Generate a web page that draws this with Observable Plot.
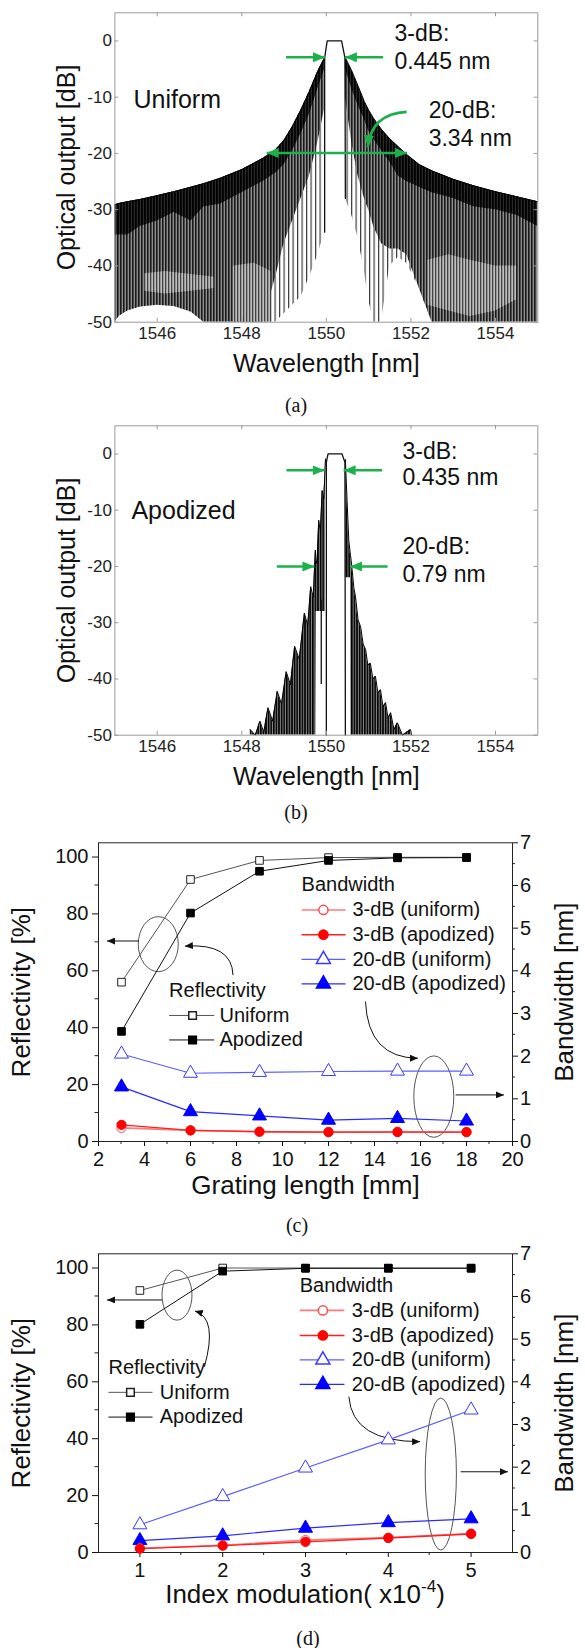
<!DOCTYPE html>
<html>
<head>
<meta charset="utf-8">
<script src="https://cdn.jsdelivr.net/npm/d3@7"></script>
<script src="https://cdn.jsdelivr.net/npm/@observablehq/plot@0.6"></script>
<style>
  html, body { margin: 0; padding: 0; background: #fff; overflow: hidden; }
  #root { position: relative; width: 585px; height: 1648px; font-family: "Liberation Sans", Arial, sans-serif; }
  .panel { position: absolute; left: 0; }
  .cap { position: absolute; width: 80px; text-align: center; font-family: "Liberation Serif", "Times New Roman", serif; font-size: 20px; line-height: 20px; color: #111; }
</style>
</head>
<body>
<svg width="0" height="0" style="position:absolute;left:0;top:0">
  <defs>
    <pattern id="pDark" width="3" height="10" patternUnits="userSpaceOnUse">
      <rect width="3" height="10" fill="#2a2a2a"/><rect width="1.8" height="10" fill="#000"/>
    </pattern>
    <pattern id="pDense" width="3" height="10" patternUnits="userSpaceOnUse">
      <rect width="3" height="10" fill="#8e8e8e"/><rect width="1.6" height="10" fill="#1a1a1a"/>
    </pattern>
    <pattern id="pSparse" width="4.5" height="10" patternUnits="userSpaceOnUse">
      <rect width="4.5" height="10" fill="#ffffff"/><rect width="1.2" height="10" fill="#3a3a3a"/>
    </pattern>
    <pattern id="pLight" width="3" height="10" patternUnits="userSpaceOnUse">
      <rect width="3" height="10" fill="#bdbdbd"/><rect width="1.3" height="10" fill="#444"/>
    </pattern>
    <pattern id="pApo" width="2.6" height="10" patternUnits="userSpaceOnUse">
      <rect width="2.6" height="10" fill="#8a8a8a"/><rect width="1.6" height="10" fill="#000"/>
    </pattern>
    <marker id="hG" viewBox="0 0 10 10" refX="10" refY="5" markerWidth="12" markerHeight="10" markerUnits="userSpaceOnUse" orient="auto-start-reverse" preserveAspectRatio="none">
      <path d="M0,0L10,5L0,10z" fill="#1db14b"/>
    </marker>
    <marker id="hK" viewBox="0 0 10 10" refX="10" refY="5" markerWidth="8" markerHeight="7" markerUnits="userSpaceOnUse" orient="auto-start-reverse" preserveAspectRatio="none">
      <path d="M0,0L10,5L0,10z" fill="#111"/>
    </marker>
  </defs>
</svg>
<div id="root"></div>
<script>
// ================= DATA =================
// (a) Uniform grating spectrum (NaN = central gap)
const uniWl    = [1545.0,1545.1,1545.3,1545.6,1546.0,1546.4,1546.8,1547.1,1547.5,1548.0,1548.5,1548.8,1549.0,1549.2,1549.4,1549.6,1549.8,1549.96,NaN,1550.45,1550.6,1550.75,1550.9,1551.0,1551.12,1551.3,1551.5,1551.7,1551.9,1552.2,1552.5,1553.0,1553.5,1554.0,1554.5,1555.0];
const uniTop   = [-29.1,-28.9,-28.6,-28.2,-27.5,-26.8,-26.0,-25.4,-24.4,-22.9,-20.9,-19.4,-17.7,-15.2,-12.3,-9.0,-5.4,-3.0,NaN,-3.0,-5.3,-8.0,-10.8,-12.3,-13.8,-15.7,-17.4,-18.8,-20.2,-22.0,-23.1,-24.6,-25.8,-26.8,-27.7,-28.6];
const uniBand  = [-34.5,-34.5,-34.5,-33.0,-32.0,-30.5,-32.0,-29.5,-29.0,-27.0,-25.0,-23.5,-22.0,-19.5,-16.5,-13.0,-8.5,-5.0,NaN,-5.0,-8.5,-11.5,-14.0,-16.0,-17.5,-19.5,-21.5,-24.0,-25.0,-26.0,-27.0,-28.0,-29.5,-30.0,-31.0,-33.0];
const uniDense = [-50,-49,-48,-47.3,-47,-47.2,-48.2,-50,-50,-50,-50,-42,-36,-32,-28,-24,-18,-12,NaN,-10,-18,-24,-28,-30,-33,-36,-37,-37,-38,-44,-50,-50,-50,-50,-50,-50];
const uniFloor = [-50,-49,-48,-47.3,-47,-47.2,-48.2,-50,-50,-50,-50,-50,-48.5,-47,-45.5,-42,-38,-34,NaN,-28,-31,-35,-41,-46,-50,-50,-40,-38.5,-39.5,-44,-50,-50,-50,-50,-50,-50];
const uniPatchWl = [1545.7,1546.2,1546.8,1547.35,NaN,1547.8,1548.3,1548.7,NaN,1552.4,1552.9,1553.4,1554.0,1554.5];
const uniPatchHi = [-41.4,-41.0,-41.5,-42.0,NaN,-40,-39.5,-41,NaN,-39,-38,-39,-40,-40];
const uniPatchLo = [-44.5,-45.0,-44.5,-44.0,NaN,-50,-50,-50,NaN,-47,-48,-49,-48,-46];
const uniPeakWl = [1549.96,1549.96,1550.02,1550.36,1550.44,1550.45];
const uniPeakDb = [-34,-3,0,0,-3,-28];

// (b) Apodized grating spectrum
const apoWl    = [1548.20,1548.32,1548.43,1548.52,1548.62,1548.73,1548.84,1548.94,1549.05,1549.15,1549.25,1549.36,1549.48,1549.56,1549.63,1549.69,1549.74,1549.75,1549.76,1549.78,1549.82,1549.86,1549.90,1549.94,1549.98,NaN,
                  1550.45,1550.49,1550.53,1550.57,1550.58,1550.61,1550.65,1550.69,1550.75,1550.81,1550.87,1550.93,1550.98,1551.04,1551.10,1551.16,1551.22,1551.28,1551.34,1551.40,1551.46,1551.52,1551.60,1551.68,1551.80,1551.99,1552.02];
const apoTop   = [-49.0,-50,-47.5,-49.5,-45.1,-47.5,-42.2,-44.5,-38.7,-41.0,-34.2,-36.5,-28.3,-30.5,-23.6,-25.5,-17.1,-18.5,-19.0,-19.5,-11.8,-14.0,-6.5,-8.0,-0.9,NaN,
                  -1.0,-8.3,-15.3,-18.0,-18.5,-20.6,-23.8,-25.4,-29.5,-30.7,-33.8,-34.8,-37.5,-37.2,-40.0,-39.5,-42.5,-41.9,-45.0,-44.2,-47.0,-46.0,-49.0,-47.8,-50.0,-49.0,-50.0];
const apoFloor = [-50,-50,-50,-50,-50,-50,-50,-50,-50,-50,-50,-50,-50,-50,-50,-50,-50,-50,-28,-28,-28,-28,-28,-28,-28,NaN,
                  -22,-22,-22,-22,-50,-50,-50,-50,-50,-50,-50,-50,-50,-50,-50,-50,-50,-50,-50,-50,-50,-50,-50,-50,-50,-50,-50];
const apoPeakWl = [1550.0,1550.0,1550.04,1550.37,1550.44,1550.45];
const apoPeakDb = [-50,-1.5,0,0,-1.5,-50];
const apoSpikeWl = [1549.88];
const apoSpikeHi = [-26];
const apoSpikeLo = [-41];

// (c) versus grating length [mm]
const gratingLength = [3, 6, 9, 12, 15, 18];
const reflUniformC  = [56.0, 92.1, 98.8, 99.8, 99.9, 99.9];
const reflApodC     = [38.7, 80.3, 95.0, 98.8, 99.7, 99.8];
const bw3UniformC   = [0.32, 0.26, 0.23, 0.22, 0.23, 0.22];
const bw3ApodC      = [0.39, 0.26, 0.23, 0.22, 0.22, 0.22];
const bw20UniformC  = [2.05, 1.60, 1.62, 1.64, 1.65, 1.65];
const bw20ApodC     = [1.28, 0.70, 0.60, 0.50, 0.54, 0.48];

// (d) versus index modulation [x1e-4]
const indexMod      = [1, 2, 3, 4, 5];
const reflUniformD  = [92.1, 100, 100, 100, 100];
const reflApodD     = [80.2, 98.9, 99.9, 99.9, 99.9];
const bw3UniformD   = [0.10, 0.17, 0.29, 0.35, 0.445];
const bw3ApodD      = [0.09, 0.16, 0.25, 0.34, 0.435];
const bw20UniformD  = [0.65, 1.31, 1.98, 2.64, 3.34];
const bw20ApodD     = [0.28, 0.39, 0.57, 0.70, 0.79];

// tick labels
const wlTicks = [1546, 1548, 1550, 1552, 1554];
const dbTicks = [-50, -40, -30, -20, -10, 0];
const lenTicks = [2, 4, 6, 8, 10, 12, 14, 16, 18, 20];
const lenMinor = [3, 5, 7, 9, 11, 13, 15, 17, 19];
const modTicks = [1, 2, 3, 4, 5];
const modMinor = [1.5, 2.5, 3.5, 4.5];
const reflTicks = [0, 20, 40, 60, 80, 100];
const reflMinor = [10, 30, 50, 70, 90];
const bwTicks = [0, 1, 2, 3, 4, 5, 6, 7];
const bwMinor = [0.5, 1.5, 2.5, 3.5, 4.5, 5.5, 6.5];
const legendBandwidth = ["3-dB (uniform)", "3-dB (apodized)", "20-dB (uniform)", "20-dB (apodized)"];
const legendRefl = ["Uniform", "Apodized"];

// ================= HELPERS =================
const SVGNS = "http://www.w3.org/2000/svg";
const GREEN = "#1db14b";
function el(name, attrs) { const e = document.createElementNS(SVGNS, name); for (const k in attrs) e.setAttribute(k, attrs[k]); return e; }
function pathMark(pts, {quad = false, stroke = "#111", width = 1, start = null, end = null} = {}) {
  return (index, scales) => {
    const P = pts.map(([a, b]) => [scales.x(a), scales.y(b)]);
    let d = `M${P[0]}`;
    d += quad ? `Q${P[1]} ${P[2]}` : P.slice(1).map(p => `L${p}`).join("");
    const attrs = {d, fill: "none", stroke, "stroke-width": width};
    if (start) attrs["marker-start"] = `url(#${start})`;
    if (end) attrs["marker-end"] = `url(#${end})`;
    return el("path", attrs);
  };
}
function ellipseMark(cx, cy, rx, ry) {
  return (index, scales) => el("ellipse", {cx: scales.x(cx), cy: scales.y(cy), rx, ry, fill: "none", stroke: "#555", "stroke-width": 1});
}
// short tick lines (minor ticks) through the plot's scales, outward from the frame
function tickLines(values, side, len, stroke = "#222") {
  return (index, scales, v, dims) => {
    const g = el("g", {stroke, "stroke-width": 1});
    const bottom = dims.height - dims.marginBottom, left = dims.marginLeft, right = dims.width - dims.marginRight;
    for (const t of values) {
      if (side === "bottom") { const x = scales.x(t); g.append(el("line", {x1: x, x2: x, y1: bottom, y2: bottom + len})); }
      else if (side === "left") { const y = scales.y(t); g.append(el("line", {x1: left, x2: left - len, y1: y, y2: y})); }
      else { const y = scales.y(t); g.append(el("line", {x1: right, x2: right + len, y1: y, y2: y})); }
    }
    return g;
  };
}

function specAxes() {
  const g = "#9b9b9b";
  return [
    Plot.frame({stroke: g}),
    Plot.ruleX(wlTicks, {x: d => d, y1: -50, y2: -49.3, stroke: g}),
    Plot.ruleX(wlTicks, {x: d => d, y1: 5, y2: 4.3, stroke: g}),
    Plot.ruleY(dbTicks, {y: d => d, x1: 1545, x2: 1545.09, stroke: g}),
    Plot.ruleY(dbTicks, {y: d => d, x1: 1555, x2: 1554.91, stroke: g}),
    Plot.axisX(wlTicks, {tickSize: 0, tickPadding: 5, fontSize: 17, label: null, tickFormat: d => String(d)}),
    Plot.axisY(dbTicks, {tickSize: 0, tickPadding: 3, fontSize: 17, label: null, tickFormat: d => String(d)}),
    Plot.text(["Wavelength [nm]"], {text: d => d, frameAnchor: "bottom", dy: 50, lineAnchor: "bottom", fontSize: 25, fill: "#111"}),
    Plot.text(["Optical output [dB]"], {text: d => d, frameAnchor: "left", textAnchor: "middle", dx: -48, rotate: -90, fontSize: 25, fill: "#111"})
  ];
}
const specBase = {
  width: 585, height: 390, marginLeft: 114.4, marginRight: 47.7, marginTop: 12.3, marginBottom: 68.3,
  x: {domain: [1545, 1555]}, y: {domain: [-50, 5]},
  style: {background: "transparent", overflow: "visible", color: "#222", fontFamily: "Liberation Sans, Arial, sans-serif"}
};
function annText(lines, size) {
  return Plot.text(lines, {text: d => d[0], x: d => d[1], y: d => d[2], textAnchor: "start", lineAnchor: "bottom", fontSize: size, fill: "#111"});
}

// ================= PANEL (a) =================
const uniRows = uniWl.map((wl, i) => ({wl, top: uniTop[i], band: uniBand[i], dense: uniDense[i], floor: uniFloor[i]}));
const uniPatch = uniPatchWl.map((wl, i) => ({wl, hi: uniPatchHi[i], lo: uniPatchLo[i]}));
const uniPeak = uniPeakWl.map((wl, i) => ({wl, db: uniPeakDb[i]}));
const plotA = Plot.plot({
  ...specBase,
  marks: [
    Plot.areaY(uniRows, {x: "wl", y1: "floor", y2: "top", fill: "url(#pSparse)", clip: true}),
    Plot.areaY(uniRows, {x: "wl", y1: "dense", y2: "top", fill: "url(#pDense)", clip: true}),
    Plot.areaY(uniPatch, {x: "wl", y1: "lo", y2: "hi", fill: "url(#pLight)", clip: true}),
    Plot.areaY(uniRows, {x: "wl", y1: "band", y2: "top", fill: "url(#pDark)", clip: true}),
    Plot.line(uniRows, {x: "wl", y: "top", stroke: "#000", strokeWidth: 1}),
    Plot.line(uniPeak, {x: "wl", y: "db", stroke: "#111", strokeWidth: 1.3}),
    ...specAxes(),
    annText([["Uniform", 1545.44, -11.9]], 25),
    annText([["3-dB:", 1551.61, 0.0], ["0.445 nm", 1551.61, -5.0], ["20-dB:", 1552.42, -13.7], ["3.34 nm", 1552.42, -18.6]], 23),
    pathMark([[1549.06, -3], [1549.98, -3]], {stroke: GREEN, width: 2.6, end: "hG"}),
    pathMark([[1551.35, -3], [1550.45, -3]], {stroke: GREEN, width: 2.6, end: "hG"}),
    pathMark([[1548.6, -20], [1551.92, -20]], {stroke: GREEN, width: 2.6, start: "hG", end: "hG"}),
    pathMark([[1551.91, -12.7], [1551.08, -13.0], [1550.99, -19.0]], {quad: true, stroke: GREEN, width: 2.6, end: "hG"})
  ]
});

// ================= PANEL (b) =================
const apoRows = apoWl.map((wl, i) => ({wl, top: apoTop[i], floor: apoFloor[i]}));
const apoPeak = apoPeakWl.map((wl, i) => ({wl, db: apoPeakDb[i]}));
const apoSpike = apoSpikeWl.map((wl, i) => ({wl, hi: apoSpikeHi[i], lo: apoSpikeLo[i]}));
const plotB = Plot.plot({
  ...specBase,
  marks: [
    Plot.areaY(apoRows, {x: "wl", y1: "floor", y2: "top", fill: "url(#pApo)", clip: true}),
    Plot.line(apoRows, {x: "wl", y: "top", stroke: "#000", strokeWidth: 1}),
    Plot.ruleX(apoSpike, {x: "wl", y1: "lo", y2: "hi", stroke: "#111", strokeWidth: 1.3}),
    Plot.line(apoPeak, {x: "wl", y: "db", stroke: "#111", strokeWidth: 1.3}),
    ...specAxes(),
    annText([["Apodized", 1545.39, -11.5]], 25),
    annText([["3-dB:", 1551.8, -0.9], ["0.435 nm", 1551.8, -5.6], ["20-dB:", 1551.8, -17.8], ["0.79 nm", 1551.8, -22.7]], 23),
    pathMark([[1549.07, -3], [1549.97, -3]], {stroke: GREEN, width: 2.6, end: "hG"}),
    pathMark([[1551.33, -3], [1550.42, -3]], {stroke: GREEN, width: 2.6, end: "hG"}),
    pathMark([[1548.84, -20.1], [1549.73, -20.1]], {stroke: GREEN, width: 2.6, end: "hG"}),
    pathMark([[1551.46, -20.1], [1550.57, -20.1]], {stroke: GREEN, width: 2.6, end: "hG"})
  ]
});

// ================= PANELS (c), (d) =================
const NM = 105 / 7; // right axis (bandwidth, nm) mapped onto the left axis (0..105 %)
const STY = {
  reflU: {line: "#555", w: 1, sym: "square", fill: "white", stroke: "#222", r: 4.3},
  reflA: {line: "#111", w: 1, sym: "square", fill: "#000", stroke: "#000", r: 4.3},
  bw3U:  {line: "#ff7a7a", w: 1.6, sym: "circle", fill: "white", stroke: "#ff4a4a", r: 4.6},
  bw3A:  {line: "#ff1f1f", w: 1.4, sym: "circle", fill: "#ff0000", stroke: "#ff0000", r: 4.6},
  bw20U: {line: "#5c5cff", w: 1.2, sym: "triangle", fill: "white", stroke: "#3a3aff", r: 5.2},
  bw20A: {line: "#2a2aff", w: 1.2, sym: "triangle", fill: "#0000ff", stroke: "#0000ff", r: 5.2}
};
function seriesMarks(list) {
  const lines = [], dots = [];
  for (const [xs, ys, s, k] of list) {
    const rows = xs.map((x, i) => ({x, y: ys[i] * k}));
    lines.push(Plot.line(rows, {x: "x", y: "y", stroke: s.line, strokeWidth: s.w}));
    dots.push(Plot.dot(rows, {x: "x", y: "y", symbol: s.sym, r: s.r, fill: s.fill, stroke: s.stroke, strokeWidth: 1}));
  }
  return [...lines, ...dots];
}
function legendMarks(names, styles, ys, x1, x2, xm, xt) {
  const rows = names.map((n, i) => ({n, s: styles[i], y: ys[i]}));
  return [
    ...rows.map(r => Plot.link([r], {x1: x1, x2: x2, y1: d => d.y, y2: d => d.y, stroke: r.s.line, strokeWidth: r.s.w})),
    ...rows.map(r => Plot.dot([r], {x: xm, y: d => d.y, symbol: r.s.sym, r: r.s.r, fill: r.s.fill, stroke: r.s.stroke})),
    Plot.text(rows, {x: xt, y: "y", text: "n", textAnchor: "start", lineAnchor: "middle", fontSize: 20, fill: "#111"})
  ];
}
function dualAxes(xMajor, xMinor) {
  return [
    Plot.frame({stroke: "#222"}),
    tickLines(xMinor, "bottom", 3),
    Plot.axisX(xMajor, {tickSize: 5, tickPadding: 5, fontSize: 20, label: null}),
    tickLines(reflMinor, "left", 3.5),
    Plot.axisY(reflTicks, {tickSize: 6, tickPadding: 4, fontSize: 20, label: null}),
    tickLines(bwMinor.map(v => v * NM), "right", 3),
    Plot.axisY(bwTicks.map(v => v * NM), {anchor: "right", tickSize: 5, tickPadding: 2.5, fontSize: 20, label: null, tickFormat: d => String(Math.round(d / NM))}),
    Plot.text(["Reflectivity [%]"], {text: d => d, frameAnchor: "left", textAnchor: "middle", dx: -76.5, rotate: -90, fontSize: 26, fill: "#111"}),
    Plot.text(["Bandwidth [nm]"], {text: d => d, frameAnchor: "right", textAnchor: "middle", dx: 52, rotate: -90, fontSize: 26, fill: "#111"})
  ];
}
const dualBase = {
  width: 585, height: 385, marginLeft: 98, marginRight: 73, marginTop: 12.3, marginBottom: 74,
  y: {domain: [0, 105]},
  style: {background: "transparent", overflow: "visible", color: "#111", fontFamily: "Liberation Sans, Arial, sans-serif"}
};
const bwStyles = [STY.bw3U, STY.bw3A, STY.bw20U, STY.bw20A];
const reflStyles = [STY.reflU, STY.reflA];

const plotC = Plot.plot({
  ...dualBase,
  x: {domain: [2, 20]},
  marks: [
    ...dualAxes(lenTicks, lenMinor),
    Plot.text(["Grating length [mm]"], {text: d => d, frameAnchor: "bottom", dy: 52, lineAnchor: "bottom", fontSize: 26, fill: "#111"}),
    ellipseMark(4.62, 69.2, 20, 27.5),
    pathMark([[3.78, 70.3], [2.39, 70.3]], {end: "hK"}),
    pathMark([[7.87, 58.3], [7.83, 69.6], [5.78, 68.5]], {quad: true, end: "hK"}),
    ellipseMark(16.6, 15.6, 20, 40.7),
    pathMark([[17.55, 16.2], [19.65, 16.2]], {end: "hK"}),
    pathMark([[13.63, 49.0], [13.74, 29.2], [15.91, 29.1]], {quad: true, end: "hK"}),
    ...seriesMarks([
      [gratingLength, reflUniformC, STY.reflU, 1],
      [gratingLength, reflApodC, STY.reflA, 1],
      [gratingLength, bw20UniformC, STY.bw20U, NM],
      [gratingLength, bw20ApodC, STY.bw20A, NM],
      [gratingLength, bw3UniformC, STY.bw3U, NM],
      [gratingLength, bw3ApodC, STY.bw3A, NM]
    ]),
    Plot.text(["Bandwidth"], {text: d => d, x: 10.83, y: 88.0, textAnchor: "start", lineAnchor: "bottom", fontSize: 20, fill: "#111"}),
    ...legendMarks(legendBandwidth, bwStyles, [81.4, 72.7, 64.0, 55.4], 10.83, 12.74, 11.78, 13.04),
    Plot.text(["Reflectivity"], {text: d => d, x: 5.07, y: 50.7, textAnchor: "start", lineAnchor: "bottom", fontSize: 20, fill: "#111"}),
    ...legendMarks(legendRefl, reflStyles, [44.3, 35.7], 5.07, 7.03, 6.09, 7.26)
  ]
});

function indexLabel(index, scales, values, dims) {
  const t = el("text", {x: (dims.marginLeft + dims.width - dims.marginRight) / 2, y: dims.height - dims.marginBottom + 51,
    "text-anchor": "middle", "font-size": 26, fill: "#111"});
  const a = el("tspan", {}); a.textContent = "Index modulation( x10";
  const b = el("tspan", {dy: -11, "font-size": 17}); b.textContent = "-4";
  const c = el("tspan", {dy: 11}); c.textContent = ")";
  t.append(a, b, c);
  return t;
}

const plotD = Plot.plot({
  ...dualBase,
  x: {domain: [0.5, 5.5]},
  marks: [
    ...dualAxes(modTicks, modMinor),
    indexLabel,
    ellipseMark(1.454, 90.3, 15, 25),
    pathMark([[1.273, 88.6], [0.609, 88.6]], {end: "hK"}),
    pathMark([[1.785, 65.1], [1.95, 82.3], [1.67, 84.7]], {quad: true, end: "hK"}),
    ellipseMark(4.64, 27.4, 15.6, 76),
    pathMark([[4.88, 28.2], [5.45, 28.2]], {end: "hK"}),
    pathMark([[3.53, 54.6], [3.57, 38.7], [4.39, 38.8]], {quad: true, end: "hK"}),
    ...seriesMarks([
      [indexMod, reflUniformD, STY.reflU, 1],
      [indexMod, reflApodD, STY.reflA, 1],
      [indexMod, bw20UniformD, STY.bw20U, NM],
      [indexMod, bw20ApodD, STY.bw20A, NM],
      [indexMod, bw3UniformD, STY.bw3U, NM],
      [indexMod, bw3ApodD, STY.bw3A, NM]
    ]),
    Plot.text(["Bandwidth"], {text: d => d, x: 2.93, y: 91.7, textAnchor: "start", lineAnchor: "bottom", fontSize: 20, fill: "#111"}),
    ...legendMarks(legendBandwidth, bwStyles, [85.1, 76.3, 67.7, 59.1], 2.93, 3.47, 3.21, 3.56),
    Plot.text(["Reflectivity"], {text: d => d, x: 0.62, y: 62.9, textAnchor: "start", lineAnchor: "bottom", fontSize: 20, fill: "#111"}),
    ...legendMarks(legendRefl, reflStyles, [56.3, 47.6], 0.62, 1.152, 0.886, 1.24)
  ]
});

// ================= LAYOUT =================
const root = document.getElementById("root");
function place(node, top) { const d = document.createElement("div"); d.className = "panel"; d.style.top = top + "px"; d.appendChild(node); root.appendChild(d); }
place(plotA, 0);
place(plotB, 413.4);
place(plotC, 830);
place(plotD, 1241);
for (const [txt, cx, cy] of [["(a)", 296, 405], ["(b)", 296, 812], ["(c)", 297, 1225], ["(d)", 308, 1638]]) {
  const d = document.createElement("div"); d.className = "cap";
  d.style.left = (cx - 40) + "px"; d.style.top = (cy - 10) + "px"; d.textContent = txt;
  root.appendChild(d);
}
</script>
</body>
</html>
